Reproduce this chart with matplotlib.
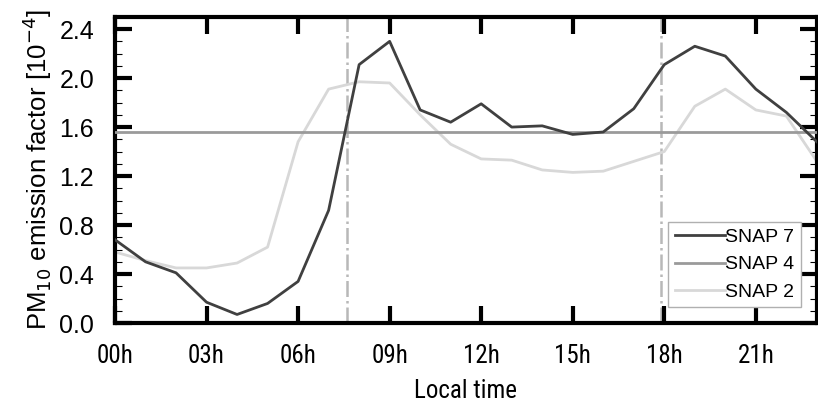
import matplotlib
matplotlib.use("Agg")
import matplotlib.pyplot as plt
from matplotlib import font_manager
from matplotlib.ticker import MultipleLocator

plt.rcParams['font.family'] = ['Liberation Sans', 'DejaVu Sans']

# narrow face for the time axis, if one is installed
instaladas = {f.name for f in font_manager.fontManager.ttflist}
fuente_estrecha = 'Liberation Sans'
for nombre in ['Liberation Sans Narrow', 'DejaVu Sans Condensed', 'Roboto Condensed']:
    if nombre in instaladas:
        fuente_estrecha = nombre
        break

# Hourly emission factors (x 1e-4), 00h .. 23h
horas = list(range(24))
snap7 = [0.68, 0.50, 0.41, 0.17, 0.07, 0.16, 0.34, 0.92, 2.11, 2.30,
         1.74, 1.64, 1.79, 1.60, 1.61, 1.54, 1.56, 1.75, 2.11, 2.26,
         2.18, 1.91, 1.72, 1.48]
snap2 = [0.58, 0.51, 0.45, 0.45, 0.49, 0.62, 1.48, 1.91, 1.97, 1.96,
         1.70, 1.46, 1.34, 1.33, 1.25, 1.23, 1.24, 1.32, 1.40, 1.77,
         1.91, 1.74, 1.69, 1.32]
snap4 = [1.56] * 24
marcas_hora = [7.6, 17.9]
etiquetas_x = ['00h', '03h', '06h', '09h', '12h', '15h', '18h', '21h']

fig = plt.figure(figsize=(8.18, 4.11), dpi=100)
ax = fig.add_axes([0.1406, 0.214, 0.858, 0.745])

for h in marcas_hora:
    ax.axvline(h, color='#b8b8b8', linestyle='-.', linewidth=1.8, zorder=1)

ax.plot(horas, snap7, color='#404040', linewidth=2.0, label='SNAP 7', zorder=4)
ax.plot(horas, snap4, color='#9a9a9a', linewidth=2.0, label='SNAP 4', zorder=3)
ax.plot(horas, snap2, color='#d8d8d8', linewidth=2.0, label='SNAP 2', zorder=2)

ax.set_xlim(0, 23)
ax.set_ylim(0, 2.5)
ax.set_xticks(range(0, 22, 3))
ax.set_xticklabels(etiquetas_x, family=fuente_estrecha, fontsize=18)
ax.yaxis.set_major_locator(MultipleLocator(0.4))
ax.yaxis.set_minor_locator(MultipleLocator(0.1))
ax.set_yticks([0.0, 0.4, 0.8, 1.2, 1.6, 2.0, 2.4])
ax.set_yticklabels(['0.0', '0.4', '0.8', '1.2', '1.6', '2.0', '2.4'], fontsize=18)
ax.set_ylim(0, 2.5)

ax.tick_params(axis='both', which='major', direction='in', length=12, width=3,
               top=True, right=True)
ax.tick_params(axis='y', which='major', pad=15)
ax.tick_params(axis='x', which='major', pad=15)
ax.tick_params(axis='y', which='minor', direction='in', length=5, width=0.8,
               left=True, right=True)
for s in ax.spines.values():
    s.set_linewidth(3)

ax.set_xlabel('Local time', fontsize=18, family=fuente_estrecha, labelpad=8)
ax.set_ylabel('PM$_{10}$ emission factor [10$^{-4}$]', fontsize=18.5, labelpad=4)

leg = ax.legend(loc='lower right', fontsize=14, handlelength=2.6, handletextpad=0.0,
                borderaxespad=0.8, fancybox=False, framealpha=1,
                edgecolor='#b0b0b0', labelspacing=0.5, borderpad=0.35)
leg.get_frame().set_linewidth(1.0)

fig.savefig('out.png', dpi=100)
